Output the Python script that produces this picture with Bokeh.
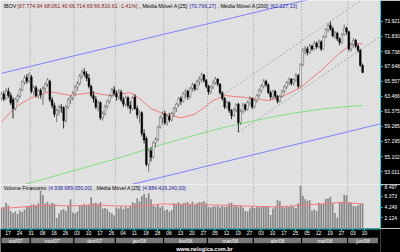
from bokeh.plotting import figure
from bokeh.layouts import column
from bokeh.models import (Range1d, FixedTicker, NumeralTickFormatter, Label, Span,
                          ColumnDataSource)
from bokeh.core.properties import value
from bokeh.embed import file_html
from bokeh.resources import INLINE

# ---------------- data (IBOV daily, thousands of points) ----------------
opens = [63.2, 63.8, 63.2, 64.2, 63.6, 63.0, 61.8, 63.0, 63.5, 64.4, 65.5, 66.1, 65.6,
         66.2, 64.2, 64.7, 63.6, 64.3, 63.7, 64.6, 65.2, 65.6, 63.0, 62.2, 61.0, 61.5, 62.0, 61.9, 60.1, 62.0, 63.0, 63.3,
         63.9, 64.8, 65.3, 66.3, 66.9, 66.6, 66.0, 64.9, 63.6, 63.1, 62.0, 62.6, 60.5, 61.1, 62.1, 62.8, 63.6, 64.4,
         63.9, 63.4, 64.1, 63.0, 62.4, 63.3, 62.2, 61.8, 63.4, 61.8, 60.9, 61.2, 58.3, 57.6, 54.0, 55.9, 55.0, 57.0, 57.5, 59.2, 60.5,
         61.1, 59.8, 60.7, 60.2, 61.1, 61.8, 62.4, 63.2, 62.8, 63.9, 64.2, 63.4, 64.6, 65.1, 64.5, 65.6, 65.9, 66.5, 65.7,
         64.9, 64.1, 64.8, 65.4, 65.9, 65.2, 64.0, 63.2, 62.0, 62.6, 61.5, 60.8, 61.6, 62.4, 59.8, 61.4, 62.3, 61.7, 62.6, 63.2,
         62.0, 62.9, 63.6, 64.3, 64.9, 65.6, 65.1, 64.0, 63.4, 64.2, 63.5, 62.8, 63.5, 64.2, 64.8, 65.4, 65.9, 65.3, 65.8, 66.4, 64.9,
         67.9, 69.9, 70.1, 69.6, 70.5, 70.1, 70.9, 70.4, 71.1, 70.1, 71.8, 72.8, 73.4, 72.9, 71.9, 72.3, 71.5, 71.0, 72.1, 73.0,
         72.5, 70.1, 70.7, 71.3, 70.5, 69.9, 67.775]
highs = [64.1, 64.2, 64.6, 64.7, 64.0, 63.4, 63.3, 63.8, 64.6, 65.7, 66.4, 66.6, 66.8,
         66.5, 65.0, 65.0, 64.5, 64.6, 64.9, 65.4, 66.0, 65.8, 63.4, 62.6, 61.8, 62.3, 62.4, 62.1, 62.3, 63.3, 63.6, 64.2,
         65.0, 65.6, 66.6, 67.2, 67.4, 67.0, 66.6, 65.1, 64.2, 63.5, 62.9, 62.8, 61.4, 62.3, 63.0, 63.8, 64.7, 64.9,
         64.3, 64.5, 64.4, 63.4, 63.6, 63.5, 62.8, 63.5, 63.8, 62.2, 61.5, 61.4, 58.9, 57.9, 56.2, 56.4, 57.2, 57.8, 59.4, 60.8, 61.4,
         61.5, 61.0, 61.2, 61.3, 62.0, 62.6, 63.4, 63.5, 64.1, 64.5, 64.4, 64.8, 65.4, 65.3, 65.8, 66.3, 66.8, 66.6, 65.9,
         65.1, 65.0, 65.7, 66.2, 66.0, 65.3, 64.2, 63.4, 62.9, 62.8, 61.7, 61.9, 62.5, 62.6, 61.7, 62.6, 62.5, 62.9, 63.5, 63.3,
         63.1, 63.8, 64.6, 65.2, 65.9, 65.8, 65.3, 64.3, 64.4, 64.4, 63.7, 63.7, 64.4, 65.0, 65.6, 66.1, 66.0, 66.0, 66.7, 66.6, 68.1,
         70.2, 70.5, 70.4, 70.8, 70.7, 71.2, 71.1, 71.4, 71.3, 72.0, 73.0, 73.7, 73.921, 73.2, 72.6, 72.5, 71.7, 72.3, 73.5, 73.2,
         72.6, 71.0, 71.6, 71.5, 70.8, 70.1, 68.061]
lows = [62.9, 62.8, 63.0, 63.3, 62.3, 60.4, 61.5, 62.6, 63.2, 64.2, 65.1, 65.2, 65.4,
        63.9, 63.6, 63.3, 63.2, 63.2, 62.3, 64.1, 64.8, 62.7, 61.8, 60.6, 59.9, 60.8, 61.2, 59.0, 59.8, 61.7, 62.4, 62.9,
        63.6, 64.3, 65.0, 65.9, 66.2, 65.6, 64.6, 63.3, 62.6, 61.7, 61.4, 60.2, 60.1, 60.8, 61.8, 62.5, 63.3, 63.6,
        62.9, 63.0, 62.7, 62.0, 62.1, 61.8, 61.1, 61.5, 61.6, 60.4, 59.8, 57.9, 56.9, 53.7, 53.011, 54.4, 54.8, 56.4, 57.2, 59.0, 59.6,
        59.5, 59.4, 59.9, 60.0, 60.7, 61.3, 62.0, 62.3, 62.6, 63.2, 63.0, 63.2, 64.1, 64.2, 64.3, 65.0, 65.4, 65.4, 64.6,
        63.7, 63.8, 64.5, 65.1, 64.9, 63.7, 62.9, 61.7, 61.8, 61.2, 60.3, 60.6, 61.3, 58.5, 59.5, 61.1, 61.4, 61.5, 62.2, 61.7,
        61.8, 62.6, 63.3, 64.0, 64.6, 64.8, 63.8, 63.0, 63.1, 63.2, 62.5, 62.6, 63.3, 63.9, 64.5, 65.0, 65.0, 65.0, 65.5, 64.6, 64.8,
        67.7, 69.3, 69.2, 69.4, 69.8, 69.9, 70.1, 70.2, 69.8, 70.0, 71.6, 72.4, 72.6, 71.7, 71.5, 71.2, 70.6, 70.8, 71.9, 72.1,
        69.8, 69.7, 70.3, 70.2, 69.6, 67.6, 66.715]
closes = [63.8, 63.1, 64.3, 63.6, 62.6, 61.8, 63.1, 63.5, 64.4, 65.5, 66.1, 65.6, 66.4,
          64.2, 64.7, 63.6, 64.3, 63.7, 64.6, 65.2, 65.8, 63.0, 62.2, 61.0, 61.5, 62.0, 61.9, 60.1, 62.0, 63.0, 63.3, 63.9,
          64.8, 65.3, 66.3, 66.9, 66.6, 66.0, 64.9, 63.6, 63.1, 62.0, 62.6, 60.5, 61.1, 62.1, 62.8, 63.6, 64.4, 63.9,
          63.4, 64.1, 63.0, 62.4, 63.3, 62.2, 61.8, 63.3, 61.8, 60.9, 61.2, 58.3, 57.4, 54.0, 55.9, 55.0, 57.0, 57.5, 59.2, 60.5, 61.0,
          59.8, 60.7, 60.2, 61.1, 61.8, 62.4, 63.2, 62.8, 63.9, 64.2, 63.4, 64.6, 65.1, 64.5, 65.6, 65.9, 66.5, 65.7, 64.9,
          64.1, 64.8, 65.4, 65.9, 65.2, 64.0, 63.2, 62.0, 62.6, 61.5, 60.8, 61.6, 62.3, 59.8, 61.4, 62.3, 61.7, 62.6, 63.2, 62.0,
          62.9, 63.6, 64.3, 64.9, 65.6, 65.1, 64.0, 63.4, 64.2, 63.5, 62.8, 63.5, 64.2, 64.8, 65.4, 65.9, 65.3, 65.8, 66.4, 64.9, 67.9,
          69.9, 70.1, 69.6, 70.5, 70.1, 70.9, 70.4, 71.1, 70.1, 71.8, 72.8, 73.4, 72.9, 71.9, 72.3, 71.5, 71.0, 72.1, 73.0, 72.5,
          70.1, 70.7, 71.3, 70.5, 69.9, 67.8, 66.817]
# financial volume, billions of R$
volumes = [4.2, 4.3, 5.1, 4.6, 3.5, 3.1, 3.4, 2.9, 3.6, 3.3, 3.8, 4.5, 4.4,
           4.7, 4.8, 4.6, 5.0, 7.5, 6.6, 5.0, 5.3, 4.8, 5.1, 4.9, 2.1, 3.0, 3.7, 3.9, 3.5, 4.5, 5.8, 3.2,
           3.0, 3.4, 4.7, 4.5, 4.9, 4.6, 4.8, 6.2, 5.0, 5.1, 4.9, 5.2, 4.0, 4.1, 3.9, 3.3, 3.0, 2.6,
           4.2, 4.0, 4.4, 3.9, 4.3, 4.1, 4.5, 5.2, 5.0, 6.0, 5.4, 6.4, 6.9, 6.1, 7.0, 5.8, 4.6, 4.4, 4.7, 4.2, 4.5,
           3.6, 3.8, 3.4, 3.7, 5.0, 4.9, 5.2, 4.8, 5.0, 5.1, 5.2, 4.9, 5.3, 4.7, 5.0, 5.2, 5.2, 5.4, 5.0,
           4.3, 4.2, 4.4, 4.4, 4.6, 4.2, 4.5, 4.3, 4.4, 5.0, 5.1, 4.4, 4.5, 4.3, 4.6, 4.2, 3.5, 3.4, 4.0, 4.3,
           4.1, 4.4, 4.2, 4.4, 4.5, 4.3, 4.4, 2.7, 4.0, 4.3, 5.6, 5.4, 4.4, 4.2, 4.5, 4.3, 4.6, 4.4, 4.1, 5.0, 8.497,
           6.5, 5.8, 5.5, 5.6, 3.6, 3.8, 3.5, 5.1, 4.9, 5.0, 5.9, 6.0, 6.3, 5.0, 3.1, 2.2, 5.3, 5.2, 6.7, 6.6,
           5.2, 5.1, 4.5, 4.4, 4.6, 4.9, 4.939]

ma25_x = [0, 6, 13, 21, 30, 39, 47, 56, 60, 65, 70, 78, 84, 88, 92, 97, 107, 116, 121, 130, 139, 147, 153, 157]
ma25_y = [59.9, 62.0, 63.3, 64.16, 63.6, 64.0, 63.6, 64.0, 63.2, 61.8, 61.1, 60.5, 61.0, 61.9, 62.9, 63.6,
          63.3, 62.9, 63.3, 64.7, 67.1, 69.5, 70.9, 70.796]
ma200_x = [0, 11, 20, 30, 40, 50, 60, 70, 80, 90, 100, 110, 120, 130, 140, 150, 157]
ma200_y = [50.3, 51.3, 52.1, 53.0, 53.9, 54.8, 55.8, 56.8, 57.7, 58.6, 59.4, 60.1, 60.75, 61.3, 61.75, 62.05, 62.227]
volma_x = [0, 10, 20, 30, 40, 50, 60, 70, 80, 90, 100, 110, 120, 130, 140, 148, 157]
volma_y = [4.0, 4.3, 4.6, 4.5, 4.7, 4.5, 4.4, 4.9, 4.7, 4.7, 4.6, 4.4, 4.3, 4.6, 4.9, 5.2, 4.884]

chan_upper_x = [0, 165]
chan_upper_y = [66.70, 79.41]
chan_lower_x = [0, 165]
chan_lower_y = [46.78, 59.68]
trend_upper_x = [96.5, 156]
trend_upper_y = [63.73, 76.8]
trend_lower_x = [103, 164]
trend_lower_y = [58.45, 71.69]

month_bounds = [12.5, 31.5, 49.5, 70.5, 89.5, 109.5, 130.5, 150.5]
month_labels = ["out/07", "nov/07", "dez/07", "jan/08", "fev/08", "mar/08", "abr/08", "mai/08", "jun/08"]
date_tick_idx = [2, 7, 12, 17, 22, 27, 32, 37, 42, 47, 52, 57, 62, 67, 72, 77, 82, 87, 92, 97,
                 102, 107, 112, 117, 122, 127, 132, 137, 142, 147, 152, 157]
date_tick_labels = ["17", "24", "31", "08", "16", "26", "03", "10", "17", "26", "04", "11", "18", "28",
                    "06", "13", "20", "27", "05", "12", "19", "27", "03", "10", "17", "25", "05", "12",
                    "19", "27", "03", "10"]
price_ticks = [53.011, 55.102, 57.195, 59.285, 61.375, 63.466, 65.557, 67.648, 69.738, 71.830, 73.921]
volume_ticks = [2.124, 4.249, 6.373, 8.497]

# ---------------- styling ----------------
FONT = "Liberation Sans"
CYAN = "#00d8d8"
BG = "#e0e0e0"
X0, X1 = -0.435, 164.78
TICK_SHIFT = 0.8  # date labels sit slightly right of their bar


def px(xpix):
    """pixel column -> bar index"""
    return (xpix - 1) / 2.3


xr = Range1d(X0, X1)


def base_fig(h, yr, axis=True):
    p = figure(frame_width=380, frame_height=h, x_range=xr, y_range=yr,
               x_axis_location=None, y_axis_location="right" if axis else None,
               toolbar_location=None, output_backend="svg",
               min_border_left=0, min_border_top=0, min_border_bottom=0, min_border_right=20,
               background_fill_color=BG, border_fill_color="black", outline_line_color=None)
    p.grid.grid_line_color = None
    return p


def style_axis(ax, ticks):
    ax.ticker = FixedTicker(ticks=ticks)
    ax.formatter = NumeralTickFormatter(format="0.000")
    ax.axis_line_color = CYAN
    ax.major_tick_line_color = CYAN
    ax.major_tick_out = 2
    ax.major_tick_in = 0
    ax.minor_tick_line_color = None
    ax.major_label_text_color = "white"
    ax.major_label_text_font = FONT
    ax.major_label_text_font_size = "5px"
    ax.major_label_standoff = 2


def add_label(p, xpix, y, text, color, size="5.3px"):
    p.add_layout(Label(x=px(xpix), y=y, text=text, text_color=color, text_font=FONT,
                       text_font_size=size, text_align="left", text_baseline="middle"))


def value_box(p, y, text, bg, fg):
    p.add_layout(Label(x=px(382), y=y, text=text, text_color=fg, text_font=FONT,
                       text_font_size="5px", text_align="left", text_baseline="middle",
                       background_fill_color=bg, padding=1))


idx = list(range(len(closes)))

# ---------------- price panel ----------------
p1 = base_fig(184, Range1d(51.199, 76.848))
style_axis(p1.yaxis[0], price_ticks)
for b in month_bounds:
    p1.add_layout(Span(location=b, dimension="height", line_color="#9a9a9a",
                       line_dash="1 2", line_width=1, level="underlay"))

p1.line(chan_upper_x, chan_upper_y, line_color="#7f7fff", line_width=1)
p1.line(chan_lower_x, chan_lower_y, line_color="#7f7fff", line_width=1)
p1.line(trend_upper_x, trend_upper_y, line_color="#a9a9a9", line_width=1, line_dash="2 2")
p1.line(trend_lower_x, trend_lower_y, line_color="#a9a9a9", line_width=1, line_dash="2 2")
p1.line(ma200_x, ma200_y, line_color="#7ee07e", line_width=1)
p1.line(ma25_x, ma25_y, line_color="#f47a7a", line_width=1)

up = [c >= o for o, c in zip(opens, closes)]
src = ColumnDataSource(dict(
    x=idx, high=highs, low=lows,
    top=[max(o, c) for o, c in zip(opens, closes)],
    bottom=[min(o, c) for o, c in zip(opens, closes)],
    fill=["white" if u else "black" for u in up],
    edge=["#555555" if u else "black" for u in up],
))
p1.segment(x0="x", y0="low", x1="x", y1="high", source=src, line_color="edge", line_width=0.8)
p1.vbar(x="x", width=0.72, top="top", bottom="bottom", fill_color="fill",
        line_color="edge", line_width=0.5, source=src)

hy = 76.15
add_label(p1, 3, hy, "IBOV", "black")
add_label(p1, 17, hy, "[67.774,94 68.061,40 66.714,69 66.816,61 -1,41%]", "#8b1a1a")
add_label(p1, 139, hy, ", Média Móvel A [25]", "black")
add_label(p1, 189, hy, "[70.796,27]", "#1f1fa0")
add_label(p1, 217, hy, ", Média Móvel A [200]", "black")
add_label(p1, 270, hy, "[62.227,13]", "#1f1fa0")

value_box(p1, 70.796, "70.796", "#ff0000", "white")
value_box(p1, 66.817, "66.816", "#5a5a5a", "#e8e8e8")
value_box(p1, 62.227, "62.227", "#00ee00", "black")

# ---------------- volume panel ----------------
p2 = base_fig(44, Range1d(0, 8.756))
style_axis(p2.yaxis[0], volume_ticks)
for b in month_bounds:
    p2.add_layout(Span(location=b, dimension="height", line_color="#9a9a9a",
                       line_dash="1 2", line_width=1, level="underlay"))
p2.vbar(x=idx, top=volumes, bottom=0, width=0.72, fill_color="#878787", line_color=None)
p2.line(volma_x, volma_y, line_color="#f47a7a", line_width=1)

vy = 8.06
add_label(p2, 3, vy, "Volume Financeiro", "black", "5.2px")
add_label(p2, 48, vy, "[4.938.989.056,00]", "#1f1fa0", "5.2px")
add_label(p2, 93, vy, ", Média Móvel A [25]", "black", "5.2px")
add_label(p2, 142, vy, "[4.884.426.240,00]", "#1f1fa0", "5.2px")
value_box(p2, 4.939, "4.939", "#5a5a5a", "#e8e8e8")

# ---------------- date / month strip ----------------
p3 = base_fig(24, Range1d(24, 0), axis=False)
p3.background_fill_color = "black"
tick_x = [i + TICK_SHIFT for i in date_tick_idx]
p3.add_layout(Span(location=0.5, dimension="width", line_color=CYAN, line_width=1))
p3.segment(x0=tick_x, y0=[0] * len(tick_x), x1=tick_x,
           y1=[2.5] * len(tick_x), line_color=CYAN, line_width=1)
p3.text(x=tick_x, y=[4.4] * len(tick_x), text=date_tick_labels,
        text_color="white", text_font=value(FONT), text_font_size=value("5px"),
        text_align="center", text_baseline="middle")
m_left = [X0 + 0.2] + month_bounds
m_right = month_bounds + [px(378)]
p3.quad(left=m_left, right=m_right, top=[8.7] * len(m_left), bottom=[15.3] * len(m_left),
        fill_color="#7a7a7a", line_color="black", line_width=1)
p3.text(x=[(a + b) / 2 for a, b in zip(m_left, m_right)], y=[12.1] * len(m_left), text=month_labels,
        text_color="#f2f2f2", text_font=value(FONT), text_font_size=value("5px"),
        text_align="center", text_baseline="middle")
p3.add_layout(Label(x=px(204), y=20.3, text="www.nelogica.com.br", text_color="white",
                    text_font=FONT, text_font_style="bold", text_font_size="5.5px",
                    text_align="center", text_baseline="middle"))

layout = column(p1, p2, p3, spacing=0)
open("out.html", "w").write(file_html(layout, INLINE, title="IBOV"))
